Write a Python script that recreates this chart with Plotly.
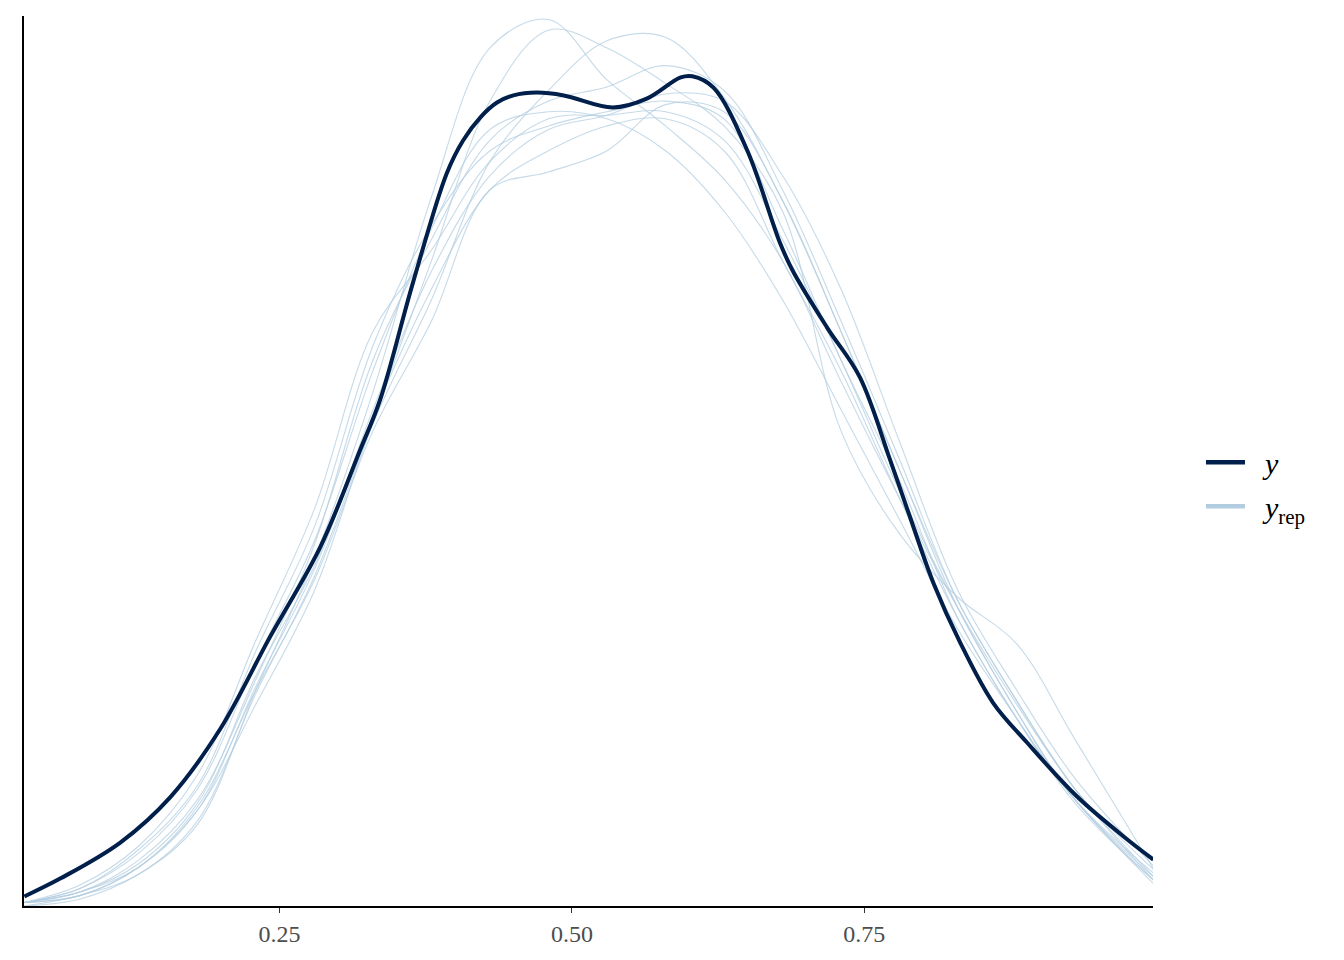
import plotly.graph_objects as go

# ---- data ----
grid_x = [0.032, 0.08, 0.13, 0.18, 0.23, 0.28, 0.33, 0.38, 0.43, 0.48,
          0.53, 0.58, 0.63, 0.68, 0.73, 0.78, 0.83, 0.88, 0.93, 0.998]

yrep_1 = [0.00, 0.02, 0.09, 0.23, 0.61, 0.98, 1.45, 2.00, 2.42, 2.50, 2.33, 2.20, 2.05, 1.82, 1.48, 1.15, 0.84, 0.57, 0.33, 0.08]
yrep_2 = [0.00, 0.03, 0.09, 0.24, 0.60, 0.93, 1.37, 1.82, 2.27, 2.47, 2.42, 2.32, 2.20, 1.96, 1.34, 1.05, 0.87, 0.74, 0.47, 0.10]
yrep_3 = [0.01, 0.03, 0.11, 0.27, 0.57, 0.89, 1.36, 1.71, 2.10, 2.30, 2.44, 2.45, 2.28, 1.99, 1.62, 1.23, 0.86, 0.58, 0.33, 0.07]
yrep_4 = [0.01, 0.04, 0.13, 0.30, 0.64, 1.02, 1.54, 1.88, 2.16, 2.27, 2.31, 2.37, 2.30, 2.02, 1.65, 1.26, 0.86, 0.58, 0.33, 0.10]
yrep_5 = [0.01, 0.03, 0.11, 0.28, 0.61, 0.92, 1.34, 1.65, 2.02, 2.07, 2.13, 2.26, 2.24, 1.99, 1.62, 1.23, 0.84, 0.55, 0.30, 0.08]
yrep_6 = [0.01, 0.05, 0.15, 0.33, 0.69, 1.03, 1.51, 1.91, 2.19, 2.24, 2.22, 2.13, 1.96, 1.71, 1.40, 1.09, 0.78, 0.53, 0.30, 0.06]
yrep_7 = [0.01, 0.05, 0.16, 0.34, 0.72, 1.07, 1.58, 1.92, 2.13, 2.20, 2.24, 2.27, 2.22, 1.91, 1.54, 1.20, 0.81, 0.53, 0.29, 0.07]
yrep_8 = [0.01, 0.04, 0.12, 0.29, 0.65, 0.96, 1.40, 1.79, 2.06, 2.19, 2.23, 2.29, 2.27, 2.06, 1.74, 1.31, 0.89, 0.61, 0.36, 0.11]
yrep_9 = [0.01, 0.06, 0.17, 0.37, 0.75, 1.12, 1.62, 1.85, 2.10, 2.22, 2.23, 2.24, 2.16, 1.88, 1.54, 1.17, 0.84, 0.55, 0.30, 0.07]
yrep_10 = [0.01, 0.04, 0.11, 0.27, 0.62, 0.95, 1.38, 1.74, 2.02, 2.13, 2.20, 2.22, 2.13, 1.82, 1.51, 1.15, 0.81, 0.53, 0.30, 0.09]

yrep_series = [yrep_1, yrep_2, yrep_3, yrep_4, yrep_5,
               yrep_6, yrep_7, yrep_8, yrep_9, yrep_10]

y_x = [0.032, 0.063, 0.114, 0.157, 0.199, 0.242, 0.285, 0.319, 0.336, 0.364,
       0.393, 0.407, 0.422, 0.436, 0.450, 0.470, 0.493, 0.535, 0.564, 0.593,
       0.603, 0.621, 0.650, 0.678, 0.689, 0.718, 0.746, 0.772, 0.789,
       0.809, 0.832, 0.860, 0.889, 0.932, 0.975, 0.997]
y_dens = [0.027, 0.078, 0.179, 0.308, 0.497, 0.759, 1.013, 1.286, 1.427, 1.756,
          2.066, 2.159, 2.225, 2.266, 2.286, 2.294, 2.286, 2.252, 2.277, 2.337,
          2.340, 2.308, 2.130, 1.869, 1.790, 1.632, 1.492, 1.258, 1.097,
          0.911, 0.742, 0.573, 0.461, 0.308, 0.187, 0.131]

tick_vals = [0.25, 0.50, 0.75]
tick_text = ["0.25", "0.50", "0.75"]

DARK = "#011f4b"
LIGHT = "#b3cde0"
NBSP = "\u00a0\u00a0"

fig = go.Figure()

for s in yrep_series:
    fig.add_trace(go.Scatter(
        x=grid_x, y=s, mode="lines",
        line=dict(color="rgba(179,205,224,0.75)", width=1.1, shape="spline", smoothing=1.0),
        showlegend=False, hoverinfo="skip"))

fig.add_trace(go.Scatter(
    x=y_x, y=y_dens, mode="lines",
    line=dict(color=DARK, width=4, shape="spline", smoothing=1.0),
    showlegend=False, hoverinfo="skip"))

# legend-only entries (thick keys as in the reference)
fig.add_trace(go.Scatter(x=[None], y=[None], mode="lines", name=NBSP + "<i>y</i>",
                         line=dict(color=DARK, width=4.5), legendgroup="a"))
fig.add_trace(go.Scatter(x=[None], y=[None], mode="lines", name=NBSP + "<i>y</i><sub>rep</sub>",
                         line=dict(color=LIGHT, width=4.5), legendgroup="b"))

fig.update_layout(
    width=1344, height=960,
    margin=dict(l=16, r=199, t=8, b=62),
    paper_bgcolor="white", plot_bgcolor="white",
    font=dict(family="Liberation Serif, Times New Roman, serif", color="#4d4d4d"),
    showlegend=True,
    legend=dict(x=1.0425, xanchor="left", y=0.474, yanchor="middle",
                font=dict(size=30, color="black", family="Liberation Serif, serif"),
                itemwidth=39, tracegroupgap=2, bgcolor="rgba(0,0,0,0)"),
    xaxis=dict(range=[0.0317, 0.9967], tickvals=tick_vals, ticktext=tick_text,
               showgrid=False, zeroline=False, showline=True, linecolor="black",
               linewidth=1.6, ticks="outside", ticklen=5, tickwidth=1.2,
               tickcolor="#333333", tickfont=dict(size=24, color="#4d4d4d")),
    yaxis=dict(range=[0, 2.51], showticklabels=False, ticks="", showgrid=False,
               zeroline=False, showline=True, linecolor="black", linewidth=1.6),
)

fig.write_html("out.html")
